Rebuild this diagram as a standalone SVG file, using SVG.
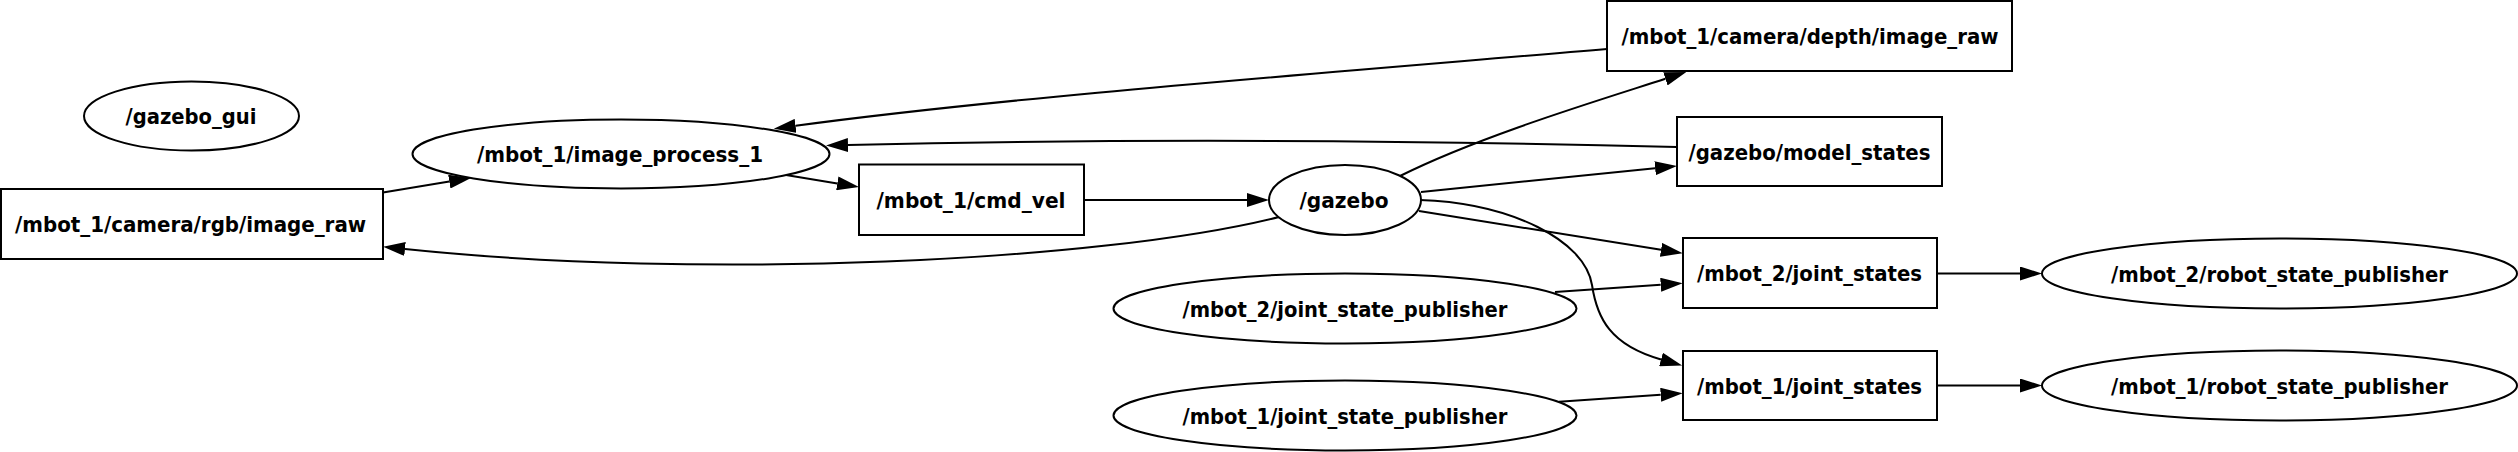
<svg xmlns="http://www.w3.org/2000/svg" width="2518" height="452" viewBox="0 0 2518 452">
<defs>
<style>
.n ellipse, .n rect { fill: #fff; stroke: #000; stroke-width: 2; }
.n text { font-family: "DejaVu Sans", "Liberation Sans", sans-serif; font-weight: bold; font-size: 22px; font-stretch: condensed; text-anchor: middle; fill: #000; }
#edges path { fill: none; stroke: #000; stroke-width: 2; marker-end: url(#ah); }
</style>
<marker id="ah" markerUnits="userSpaceOnUse" markerWidth="22" markerHeight="14" refX="0" refY="7" orient="auto" viewBox="0 0 22 14"><path d="M0,0 L22,7 L0,14 z" fill="#000"/></marker>
</defs>
<rect width="2518" height="452" fill="#fff"/>
<g id="edges">
<path d="M383,192.5 L449.3,181.6"/>
<path d="M786,175 L837.3,183.4"/>
<path d="M1084,200 L1247,200"/>
<path d="M1279,217 C1100,262 700,280 405,249"/>
<path d="M1607,49 C1300,75 1000,98 795.6,125.8"/>
<path d="M1400,176 C1480,136 1600,100 1665.4,78.8"/>
<path d="M1677,147 C1400,140 1100,139 848,145"/>
<path d="M1421,192 L1655.1,168.2"/>
<path d="M1419,211 L1661,249.8"/>
<path d="M1555,292 L1660.7,284.8"/>
<path d="M1420,200 C1510,203 1585,240 1592,285 C1597,318 1610,345 1661,359.5"/>
<path d="M1559,401.7 L1660.7,394.8"/>
<path d="M1937,273.5 L2020,273.5"/>
<path d="M1937,385.5 L2020,385.5"/>
</g>
<g id="gazebo_gui" class="n"><ellipse cx="191.5" cy="116" rx="107.5" ry="34.5"/><text x="191" y="124" textLength="131" lengthAdjust="spacingAndGlyphs">/gazebo_gui</text></g>
<g id="image_process_1" class="n"><ellipse cx="621" cy="154" rx="208.5" ry="34.5"/><text x="620" y="162" textLength="286" lengthAdjust="spacingAndGlyphs">/mbot_1/image_process_1</text></g>
<g id="rgb_image_raw" class="n"><rect x="1" y="189" width="382" height="70"/><text x="190.6" y="232" textLength="351" lengthAdjust="spacingAndGlyphs">/mbot_1/camera/rgb/image_raw</text></g>
<g id="cmd_vel" class="n"><rect x="859" y="164.5" width="225" height="70.5"/><text x="971" y="207.5" textLength="189" lengthAdjust="spacingAndGlyphs">/mbot_1/cmd_vel</text></g>
<g id="gazebo" class="n"><ellipse cx="1345" cy="200" rx="76" ry="35"/><text x="1344" y="208" textLength="89" lengthAdjust="spacingAndGlyphs">/gazebo</text></g>
<g id="depth_image_raw" class="n"><rect x="1607" y="1" width="405" height="70"/><text x="1810" y="44" textLength="377" lengthAdjust="spacingAndGlyphs">/mbot_1/camera/depth/image_raw</text></g>
<g id="model_states" class="n"><rect x="1677" y="117" width="265" height="69"/><text x="1809.5" y="159.5" textLength="242" lengthAdjust="spacingAndGlyphs">/gazebo/model_states</text></g>
<g id="mbot_2_joint_states" class="n"><rect x="1683" y="238" width="254" height="70"/><text x="1809.5" y="281" textLength="225" lengthAdjust="spacingAndGlyphs">/mbot_2/joint_states</text></g>
<g id="mbot_1_joint_states" class="n"><rect x="1683" y="351" width="254" height="69"/><text x="1809.5" y="393.5" textLength="225" lengthAdjust="spacingAndGlyphs">/mbot_1/joint_states</text></g>
<g id="mbot_2_joint_state_publisher" class="n"><ellipse cx="1345" cy="308.5" rx="231.5" ry="35"/><text x="1345" y="316.5" textLength="325" lengthAdjust="spacingAndGlyphs">/mbot_2/joint_state_publisher</text></g>
<g id="mbot_1_joint_state_publisher" class="n"><ellipse cx="1345" cy="415.5" rx="231.5" ry="35"/><text x="1345" y="423.5" textLength="325" lengthAdjust="spacingAndGlyphs">/mbot_1/joint_state_publisher</text></g>
<g id="mbot_2_robot_state_publisher" class="n"><ellipse cx="2279.5" cy="273.5" rx="237.5" ry="35"/><text x="2279.5" y="281.5" textLength="337" lengthAdjust="spacingAndGlyphs">/mbot_2/robot_state_publisher</text></g>
<g id="mbot_1_robot_state_publisher" class="n"><ellipse cx="2279.5" cy="385.5" rx="237.5" ry="35"/><text x="2279.5" y="393.5" textLength="337" lengthAdjust="spacingAndGlyphs">/mbot_1/robot_state_publisher</text></g>
</svg>
